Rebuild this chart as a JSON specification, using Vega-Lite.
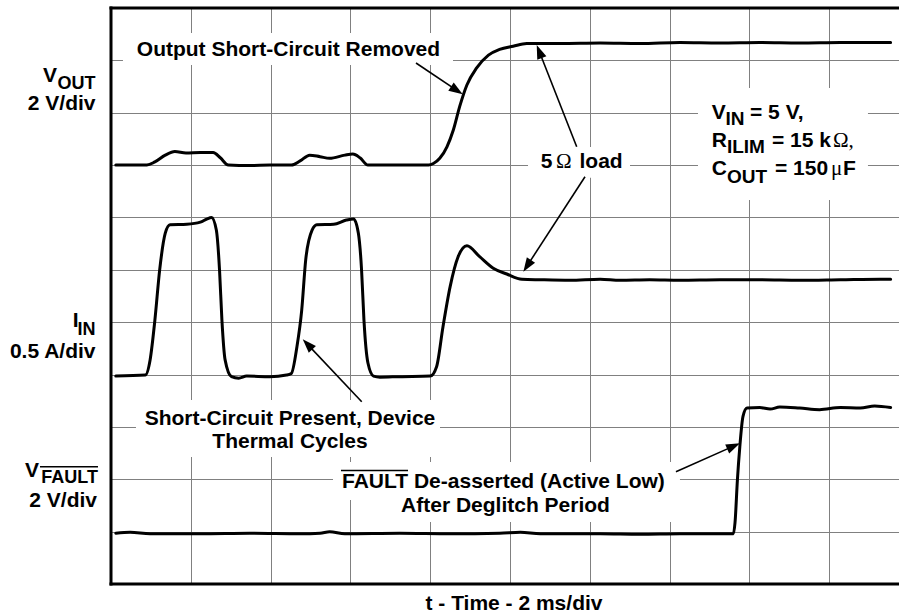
{
  "$schema": "https://vega.github.io/schema/vega-lite/v6.json",
  "width": 788,
  "height": 576,
  "padding": {"left": 111, "top": 8, "right": 0, "bottom": 29},
  "autosize": {"type": "none"},
  "background": "white",
  "config": {"view": {"stroke": null}},
  "datasets": {
    "traces": [
      {"ch":"VOUT","x":0.06,"y":8.00},{"ch":"VOUT","x":0.45,"y":8.00},{"ch":"VOUT","x":0.55,"y":8.06},{"ch":"VOUT","x":0.68,"y":8.19},{"ch":"VOUT","x":0.80,"y":8.26},{"ch":"VOUT","x":0.94,"y":8.23},{"ch":"VOUT","x":1.12,"y":8.24},{"ch":"VOUT","x":1.28,"y":8.24},{"ch":"VOUT","x":1.37,"y":8.14},{"ch":"VOUT","x":1.47,"y":8.00},{"ch":"VOUT","x":1.74,"y":7.99},{"ch":"VOUT","x":1.99,"y":8.00},{"ch":"VOUT","x":2.26,"y":8.00},{"ch":"VOUT","x":2.37,"y":8.08},{"ch":"VOUT","x":2.49,"y":8.19},{"ch":"VOUT","x":2.62,"y":8.16},{"ch":"VOUT","x":2.74,"y":8.13},{"ch":"VOUT","x":2.93,"y":8.19},{"ch":"VOUT","x":3.03,"y":8.21},{"ch":"VOUT","x":3.12,"y":8.14},{"ch":"VOUT","x":3.22,"y":8.00},{"ch":"VOUT","x":3.62,"y":8.00},{"ch":"VOUT","x":3.98,"y":8.00},{"ch":"VOUT","x":4.04,"y":8.03},{"ch":"VOUT","x":4.12,"y":8.13},{"ch":"VOUT","x":4.21,"y":8.35},{"ch":"VOUT","x":4.29,"y":8.67},{"ch":"VOUT","x":4.37,"y":9.12},{"ch":"VOUT","x":4.46,"y":9.53},{"ch":"VOUT","x":4.58,"y":9.85},{"ch":"VOUT","x":4.73,"y":10.10},{"ch":"VOUT","x":4.87,"y":10.21},{"ch":"VOUT","x":5.04,"y":10.27},{"ch":"VOUT","x":5.21,"y":10.32},{"ch":"VOUT","x":5.63,"y":10.32},{"ch":"VOUT","x":6.13,"y":10.33},{"ch":"VOUT","x":6.63,"y":10.32},{"ch":"VOUT","x":7.13,"y":10.34},{"ch":"VOUT","x":7.63,"y":10.33},{"ch":"VOUT","x":8.13,"y":10.34},{"ch":"VOUT","x":8.63,"y":10.33},{"ch":"VOUT","x":9.14,"y":10.34},{"ch":"VOUT","x":9.77,"y":10.34},
      {"ch":"IIN","x":0.06,"y":3.97},{"ch":"IIN","x":0.43,"y":3.99},{"ch":"IIN","x":0.49,"y":4.28},{"ch":"IIN","x":0.55,"y":5.04},{"ch":"IIN","x":0.61,"y":6.00},{"ch":"IIN","x":0.68,"y":6.70},{"ch":"IIN","x":0.74,"y":6.86},{"ch":"IIN","x":0.95,"y":6.87},{"ch":"IIN","x":1.12,"y":6.91},{"ch":"IIN","x":1.20,"y":6.97},{"ch":"IIN","x":1.26,"y":7.00},{"ch":"IIN","x":1.32,"y":6.76},{"ch":"IIN","x":1.36,"y":6.00},{"ch":"IIN","x":1.39,"y":5.04},{"ch":"IIN","x":1.43,"y":4.28},{"ch":"IIN","x":1.51,"y":3.96},{"ch":"IIN","x":1.60,"y":3.93},{"ch":"IIN","x":1.70,"y":3.97},{"ch":"IIN","x":1.99,"y":3.96},{"ch":"IIN","x":2.20,"y":3.99},{"ch":"IIN","x":2.26,"y":4.02},{"ch":"IIN","x":2.33,"y":4.53},{"ch":"IIN","x":2.39,"y":5.23},{"ch":"IIN","x":2.44,"y":6.19},{"ch":"IIN","x":2.52,"y":6.76},{"ch":"IIN","x":2.58,"y":6.86},{"ch":"IIN","x":2.79,"y":6.87},{"ch":"IIN","x":2.95,"y":6.95},{"ch":"IIN","x":3.04,"y":6.97},{"ch":"IIN","x":3.10,"y":6.70},{"ch":"IIN","x":3.14,"y":6.00},{"ch":"IIN","x":3.17,"y":5.04},{"ch":"IIN","x":3.22,"y":4.22},{"ch":"IIN","x":3.29,"y":3.97},{"ch":"IIN","x":3.37,"y":3.95},{"ch":"IIN","x":3.62,"y":3.96},{"ch":"IIN","x":4.00,"y":3.97},{"ch":"IIN","x":4.08,"y":4.15},{"ch":"IIN","x":4.16,"y":4.91},{"ch":"IIN","x":4.25,"y":5.68},{"ch":"IIN","x":4.35,"y":6.25},{"ch":"IIN","x":4.46,"y":6.46},{"ch":"IIN","x":4.62,"y":6.25},{"ch":"IIN","x":4.79,"y":6.03},{"ch":"IIN","x":4.96,"y":5.92},{"ch":"IIN","x":5.15,"y":5.82},{"ch":"IIN","x":5.38,"y":5.81},{"ch":"IIN","x":5.75,"y":5.80},{"ch":"IIN","x":6.13,"y":5.82},{"ch":"IIN","x":6.38,"y":5.80},{"ch":"IIN","x":6.75,"y":5.81},{"ch":"IIN","x":7.13,"y":5.80},{"ch":"IIN","x":7.63,"y":5.81},{"ch":"IIN","x":8.13,"y":5.81},{"ch":"IIN","x":8.63,"y":5.80},{"ch":"IIN","x":9.14,"y":5.81},{"ch":"IIN","x":9.64,"y":5.82},{"ch":"IIN","x":9.77,"y":5.82},
      {"ch":"VFAULT","x":0.06,"y":0.97},{"ch":"VFAULT","x":0.24,"y":0.99},{"ch":"VFAULT","x":0.49,"y":0.96},{"ch":"VFAULT","x":1.12,"y":0.96},{"ch":"VFAULT","x":1.74,"y":0.97},{"ch":"VFAULT","x":2.37,"y":0.96},{"ch":"VFAULT","x":2.62,"y":0.97},{"ch":"VFAULT","x":2.74,"y":1.00},{"ch":"VFAULT","x":2.93,"y":0.96},{"ch":"VFAULT","x":3.62,"y":0.97},{"ch":"VFAULT","x":4.25,"y":0.96},{"ch":"VFAULT","x":4.87,"y":0.97},{"ch":"VFAULT","x":5.13,"y":0.99},{"ch":"VFAULT","x":5.38,"y":0.96},{"ch":"VFAULT","x":6.13,"y":0.96},{"ch":"VFAULT","x":6.63,"y":0.95},{"ch":"VFAULT","x":7.13,"y":0.96},{"ch":"VFAULT","x":7.80,"y":0.96},{"ch":"VFAULT","x":7.82,"y":1.17},{"ch":"VFAULT","x":7.85,"y":1.99},{"ch":"VFAULT","x":7.88,"y":2.62},{"ch":"VFAULT","x":7.92,"y":3.20},{"ch":"VFAULT","x":7.97,"y":3.36},{"ch":"VFAULT","x":8.13,"y":3.37},{"ch":"VFAULT","x":8.26,"y":3.34},{"ch":"VFAULT","x":8.38,"y":3.38},{"ch":"VFAULT","x":8.63,"y":3.36},{"ch":"VFAULT","x":8.88,"y":3.33},{"ch":"VFAULT","x":9.14,"y":3.37},{"ch":"VFAULT","x":9.39,"y":3.36},{"ch":"VFAULT","x":9.57,"y":3.40},{"ch":"VFAULT","x":9.77,"y":3.37}
    ],
    "boxes": [
      {"x":0.150,"x2":4.286,"y":9.912,"y2":10.523},
      {"x":5.226,"x2":6.504,"y":7.756,"y2":8.346},
      {"x":7.356,"x2":9.486,"y":7.333,"y2":9.472},
      {"x":0.313,"x2":4.123,"y":2.425,"y2":3.514},
      {"x":2.782,"x2":7.130,"y":1.604,"y2":2.330},
      {"x":3.471,"x2":7.130,"y":1.184,"y2":1.642}
    ],
    "shafts": [
      {"x":3.822,"y":9.950,"x2":4.334,"y2":9.426},
      {"x":5.836,"y":8.351,"x2":5.367,"y2":10.169},
      {"x":5.940,"y":7.778,"x2":5.215,"y2":6.076},
      {"x":3.142,"y":3.481,"x2":2.463,"y2":4.576},
      {"x":7.080,"y":2.145,"x2":7.802,"y2":2.633}
    ],
    "heads": [
      {"x":4.334,"y":9.426,"a":123.5},
      {"x":5.367,"y":10.169,"a":338.5},
      {"x":5.215,"y":6.076,"a":213},
      {"x":2.463,"y":4.576,"a":316.6},
      {"x":7.802,"y":2.633,"a":66.1}
    ],
    "borders": [
      {"x":0,"y":11,"x2":9.875,"y2":11},
      {"x":0,"y":0,"x2":9.875,"y2":0},
      {"x":0,"y":0,"x2":0,"y2":11}
    ],
    "overlines": [
      {"x":-0.890,"x2":-0.163,"y":2.240,"y2":2.240},
      {"x":2.882,"x2":3.722,"y":2.168,"y2":2.168}
    ],
    "leftMain": [
      {"t":"V","x":-0.677,"y":9.593},
      {"t":"2 V/div","x":-0.194,"y":9.052},
      {"t":"I","x":-0.407,"y":4.914},
      {"t":"0.5 A/div","x":-0.194,"y":4.316},
      {"t":"V","x":-0.902,"y":2.049},
      {"t":"2 V/div","x":-0.175,"y":1.476}
    ],
    "leftSub": [
      {"t":"OUT","x":-0.194,"y":9.453},
      {"t":"IN","x":-0.194,"y":4.755},
      {"t":"FAULT","x":-0.163,"y":1.923}
    ],
    "notes": [
      {"t":"Output Short-Circuit Removed","x":2.224,"y":10.074},
      {"t":"Short-Circuit Present, Device","x":2.243,"y":3.036},
      {"t":"Thermal Cycles","x":2.243,"y":2.597},
      {"t":"FAULT De-asserted (Active Low)","x":4.918,"y":1.824},
      {"t":"After Deglitch Period","x":4.944,"y":1.381},
      {"t":"t - Time - 2 ms/div","x":5.050,"y":-0.497}
    ],
    "paramMain": [
      {"t":"V","x":7.528,"y":8.874},
      {"t":"= 5 V,","x":8.008,"y":8.874},
      {"t":"R","x":7.528,"y":8.351},
      {"t":"= 15 k","x":8.283,"y":8.351},
      {"t":"C","x":7.528,"y":7.811},
      {"t":"= 150","x":8.321,"y":7.811},
      {"t":"F","x":9.173,"y":7.811},
      {"t":"5","x":5.385,"y":7.950},
      {"t":"load","x":5.871,"y":7.950}
    ],
    "paramSub": [
      {"t":"IN","x":7.701,"y":8.766},
      {"t":"ILIM","x":7.719,"y":8.225},
      {"t":"OUT","x":7.719,"y":7.664}
    ],
    "paramSym": [
      {"t":"Ω","x":5.576,"y":7.950},
      {"t":"Ω,","x":9.048,"y":8.351},
      {"t":"μ","x":9.023,"y":7.811}
    ]
  },
  "encoding": {
    "x": {"field":"x","type":"quantitative","scale":{"domain":[0,9.875],"nice":false,"zero":false},
          "axis":{"values":[1,2,3,4,5,6,7,8,9],"grid":true,"gridColor":"#808080","gridWidth":1,"labels":false,"ticks":false,"domain":false,"title":null}},
    "y": {"field":"y","type":"quantitative","scale":{"domain":[0,11],"nice":false,"zero":false},
          "axis":{"values":[1,2,3,4,5,6,7,8,9,10],"grid":true,"gridColor":"#808080","gridWidth":1,"labels":false,"ticks":false,"domain":false,"title":null}}
  },
  "layer": [
    {"data":{"name":"boxes"},"mark":{"type":"rect","fill":"white","stroke":null},
     "encoding":{"x2":{"field":"x2"},"y2":{"field":"y2"}}},
    {"data":{"name":"traces"},"mark":{"type":"line","color":"black","strokeWidth":3,"interpolate":"monotone","strokeJoin":"round","strokeCap":"round"},
     "encoding":{"detail":{"field":"ch"}}},
    {"data":{"name":"shafts"},"mark":{"type":"rule","color":"black","strokeWidth":1.6},
     "encoding":{"x2":{"field":"x2"},"y2":{"field":"y2"}}},
    {"data":{"name":"heads"},"mark":{"type":"point","shape":"M0,-1L0.7,1L-0.7,1Z","size":196,"filled":true,"color":"black","opacity":1,"strokeWidth":0},
     "encoding":{"angle":{"field":"a","type":"quantitative","scale":null}}},
    {"data":{"name":"borders"},"mark":{"type":"rule","color":"black","strokeWidth":3,"strokeCap":"square"},
     "encoding":{"x2":{"field":"x2"},"y2":{"field":"y2"}}},
    {"data":{"name":"overlines"},"mark":{"type":"rule","color":"black","strokeWidth":1.5},
     "encoding":{"x2":{"field":"x2"},"y2":{"field":"y2"}}},
    {"data":{"name":"leftMain"},"mark":{"type":"text","align":"right","baseline":"alphabetic","font":"Liberation Sans","fontWeight":"bold","fontSize":21,"color":"black"},
     "encoding":{"text":{"field":"t"}}},
    {"data":{"name":"leftSub"},"mark":{"type":"text","align":"right","baseline":"alphabetic","font":"Liberation Sans","fontWeight":"bold","fontSize":18,"color":"black"},
     "encoding":{"text":{"field":"t"}}},
    {"data":{"name":"notes"},"mark":{"type":"text","align":"center","baseline":"alphabetic","font":"Liberation Sans","fontWeight":"bold","fontSize":21,"color":"black"},
     "encoding":{"text":{"field":"t"}}},
    {"data":{"name":"paramMain"},"mark":{"type":"text","align":"left","baseline":"alphabetic","font":"Liberation Sans","fontWeight":"bold","fontSize":21,"color":"black"},
     "encoding":{"text":{"field":"t"}}},
    {"data":{"name":"paramSub"},"mark":{"type":"text","align":"left","baseline":"alphabetic","font":"Liberation Sans","fontWeight":"bold","fontSize":19,"color":"black"},
     "encoding":{"text":{"field":"t"}}},
    {"data":{"name":"paramSym"},"mark":{"type":"text","align":"left","baseline":"alphabetic","font":"Liberation Serif","fontWeight":"normal","fontSize":21,"color":"black"},
     "encoding":{"text":{"field":"t"}}}
  ]
}
